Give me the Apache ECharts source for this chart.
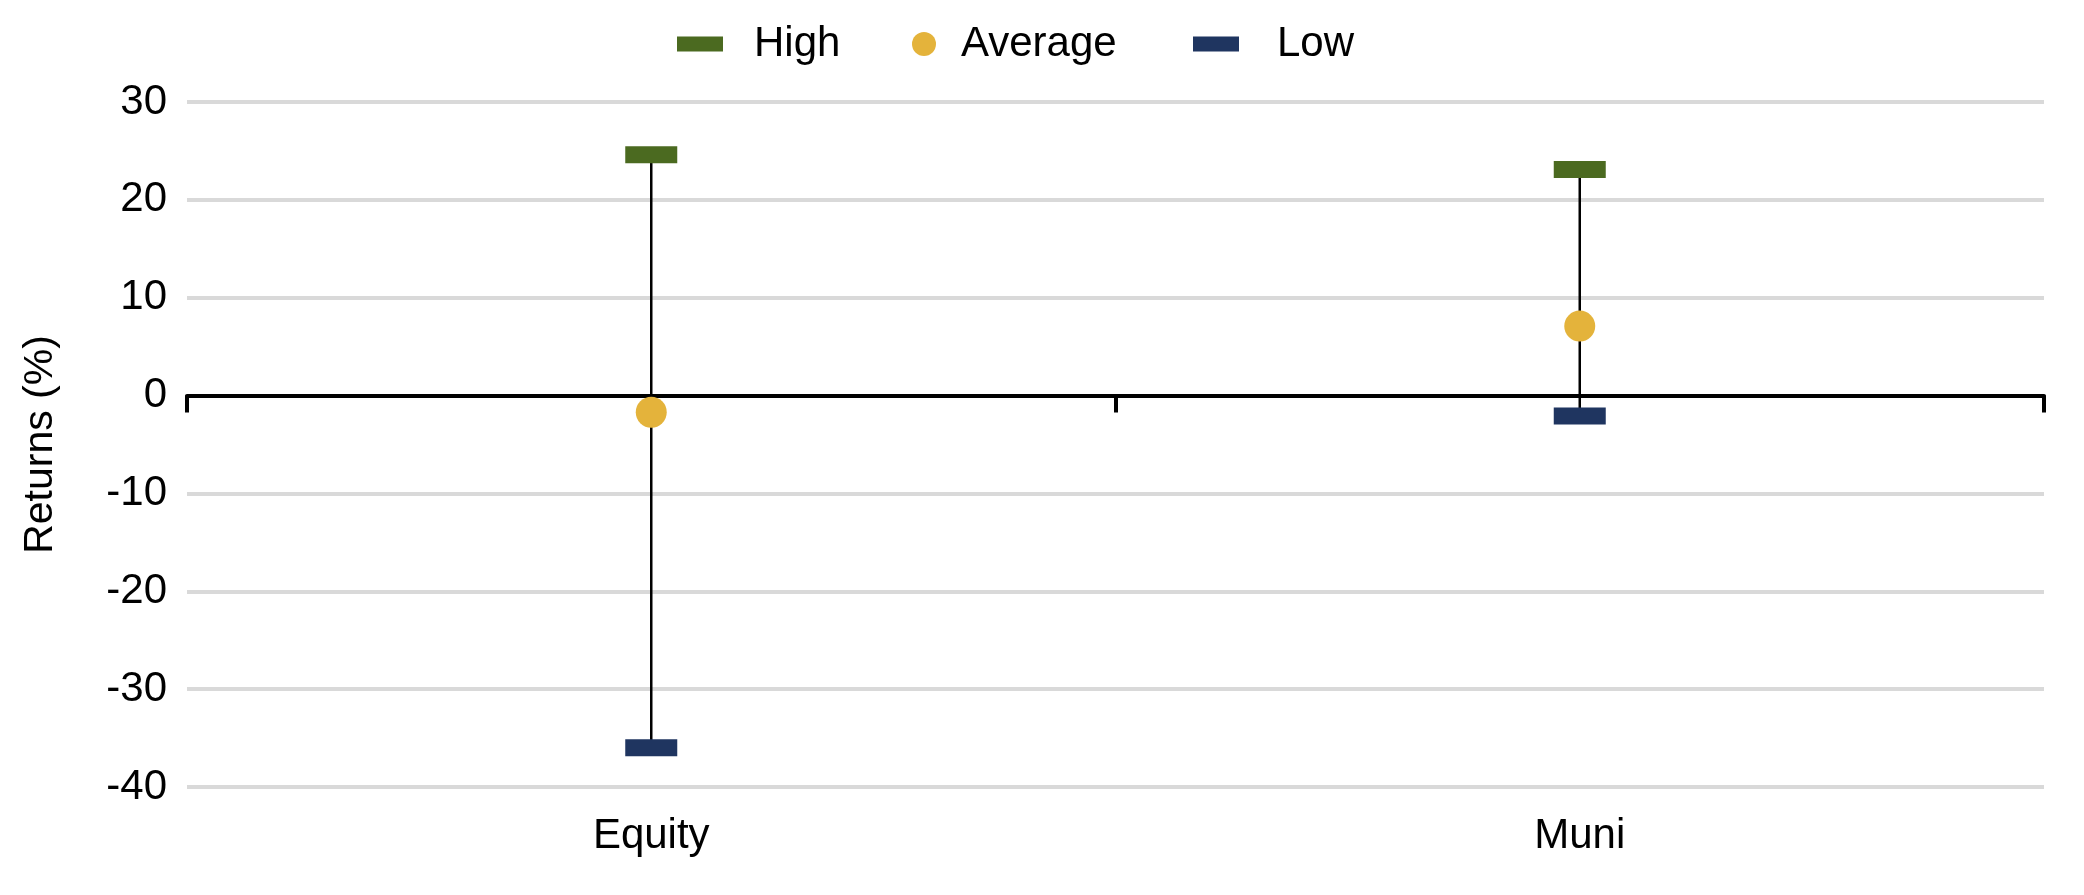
<!DOCTYPE html>
<html>
<head>
<meta charset="utf-8">
<title>Returns range</title>
<script src="https://cdn.jsdelivr.net/npm/echarts@6/dist/echarts.min.js"></script>
<style>
  html, body { margin: 0; padding: 0; background: #fff; }
  #chart { width: 2084px; height: 895px; }
</style>
</head>
<body>
<div id="chart"></div>
<script>
// 数据放在最上面
const categories = ['Equity', 'Muni'];
const highValues = [24.6, 23.1];
const averageValues = [-1.7, 7.1];
const lowValues = [-36.0, -2.1];
const yMin = -40;
const yMax = 30;
const yStep = 10;

const FONT = 'Liberation Sans';
const colors = { high: '#4b6a20', average: '#e4b33b', low: '#1f3560' };

// 每个图例单独一个legend，这样可以分别控制图标大小
function makeLegend(name, left, w, h, gap) {
    return {
        data: [name],
        left: left,
        top: 18,
        itemWidth: w,
        itemHeight: h,
        selectedMode: false,
        textStyle: { fontFamily: FONT, fontSize: 42, color: '#000', padding: [0, 0, 0, gap] }
    };
}

// 竖线：从Low连到High
function renderWhisker(params, api) {
    let lo = api.coord([api.value(0), api.value(1)]);
    let hi = api.coord([api.value(0), api.value(2)]);
    return {
        type: 'line',
        shape: { x1: lo[0], y1: lo[1], x2: hi[0], y2: hi[1] },
        style: { stroke: '#000', lineWidth: 2.5 }
    };
}

let myChart = echarts.init(document.getElementById('chart'));
let option = {
    animation: false,
    textStyle: { fontFamily: FONT },
    legend: [
        makeLegend('High', 672, 46, 15, 26),
        makeLegend('Average', 907, 24, 24, 20),
        makeLegend('Low', 1188, 46, 15, 33)
    ],
    grid: { left: 187, right: 40, top: 102, bottom: 108 },
    xAxis: [
        {
            type: 'category',
            data: categories,
            axisLine: { onZero: true, lineStyle: { color: '#000', width: 4 } },
            axisTick: { show: true, length: 17, lineStyle: { color: '#000', width: 4 } },
            axisLabel: { show: false },
            z: 5
        },
        {
            type: 'category',
            data: categories,
            position: 'bottom',
            axisLine: { show: false, onZero: false },
            axisTick: { show: false },
            axisLabel: { fontFamily: FONT, fontSize: 42, color: '#000', margin: 28 }
        }
    ],
    yAxis: {
        type: 'value',
        min: yMin,
        max: yMax,
        interval: yStep,
        name: 'Returns (%)',
        nameLocation: 'middle',
        nameGap: 126,
        nameTextStyle: { fontFamily: FONT, fontSize: 41, color: '#000' },
        axisLine: { show: false },
        axisTick: { show: false },
        axisLabel: { fontFamily: FONT, fontSize: 42, color: '#000', margin: 20 },
        splitLine: { lineStyle: { color: '#d9d9d9', width: 4 } }
    },
    series: [
        {
            name: 'range',
            type: 'custom',
            renderItem: renderWhisker,
            data: categories.map((c, i) => [i, lowValues[i], highValues[i]]),
            encode: { x: 0, y: [1, 2] },
            z: 3
        },
        {
            name: 'High',
            type: 'scatter',
            symbol: 'rect',
            symbolSize: [52, 17],
            data: highValues,
            itemStyle: { color: colors.high, opacity: 1 },
            z: 10
        },
        {
            name: 'Average',
            type: 'scatter',
            symbol: 'circle',
            symbolSize: 31,
            data: averageValues,
            itemStyle: { color: colors.average, opacity: 1 },
            z: 10
        },
        {
            name: 'Low',
            type: 'scatter',
            symbol: 'rect',
            symbolSize: [52, 17],
            data: lowValues,
            itemStyle: { color: colors.low, opacity: 1 },
            z: 10
        }
    ]
};
myChart.setOption(option);
</script>
</body>
</html>
